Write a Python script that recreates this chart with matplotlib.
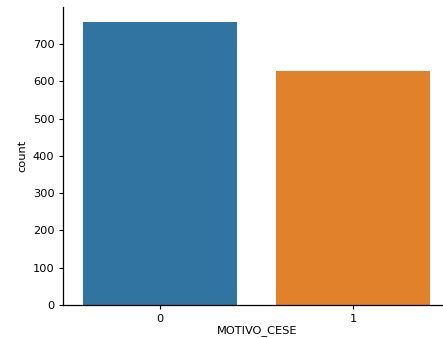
import matplotlib
matplotlib.use("Agg")
import matplotlib.pyplot as plt

categories = ["0", "1"]
counts = [760, 627]
colors = ["#3274a1", "#e1812c"]

fig = plt.figure(figsize=(4.43, 3.38), dpi=100)
ax = fig.add_axes([0.1433, 0.0976, 0.872, 0.8826])

ax.bar(range(len(categories)), counts, width=0.8, color=colors)
ax.set_xticks(range(len(categories)))
ax.set_xticklabels(categories)
ax.set_xlim(-0.5, 1.5)
ax.set_ylim(0, 800)
ax.set_yticks(range(0, 800, 100))

ax.set_xlabel("MOTIVO_CESE", fontsize=8.2, labelpad=1)
ax.set_ylabel("count", fontsize=8.2)
ax.tick_params(labelsize=8.2, length=3, width=0.8)
ax.spines["top"].set_visible(False)
ax.spines["right"].set_visible(False)
for s in ("left", "bottom"):
    ax.spines[s].set_linewidth(0.9)

fig.savefig("out.png", dpi=100)
